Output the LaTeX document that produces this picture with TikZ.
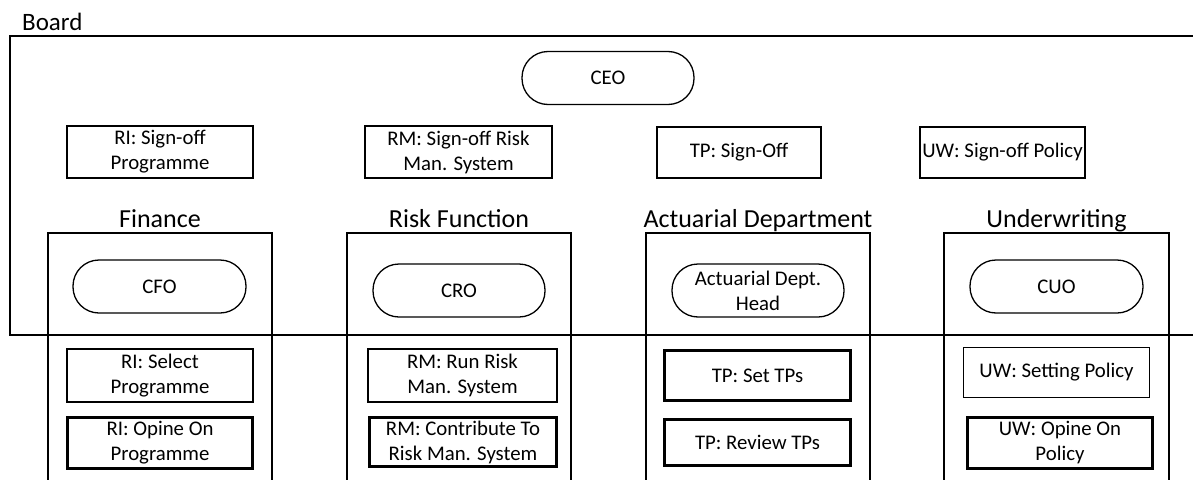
\documentclass[tikz,border=0pt]{standalone}
\usepackage{fontspec}
\setmainfont{Carlito}
\usepackage{tikz}

\begin{document}
\begin{tikzpicture}[x=1pt, y=-1pt,
  frame/.style={draw, line width=1.3pt, rectangle, inner sep=0pt},
  taskbox/.style={draw, line width=1.3pt, rectangle, align=center, inner sep=0pt, minimum width=186pt, minimum height=52pt, font=\fontsize{20.8pt}{25pt}\selectfont},
  keybox/.style={taskbox, line width=3.5pt},
  rolepill/.style={draw, line width=1.3pt, rectangle, rounded corners=26pt, align=center, inner sep=0pt, minimum width=172pt, minimum height=53pt, font=\fontsize{20.8pt}{25pt}\selectfont},
  unitlabel/.style={anchor=base, inner sep=0pt, font=\fontsize{26pt}{26pt}\selectfont}]%
\useasboundingbox (0,0) rectangle (1193,479);%
\clip (0,0) rectangle (1193,479);%
% board
\node[frame, minimum width=1200pt, minimum height=299pt] (board) at (610, 185.5) {};%
\node[anchor=base west, inner sep=0pt, font=\fontsize{25pt}{25pt}\selectfont] (boardlbl) at (22, 30) {Board};%
\node[rolepill] (ceo) at (608, 78) {CEO};%
\node[taskbox] (risignoff) at (160, 152) {RI: Sign-off\\Programme};%
\node[taskbox, minimum width=187pt] (rmsignoff) at (458.5, 152) {RM: Sign-off Risk\\Man. System};%
\node[taskbox, minimum width=164pt, minimum height=51pt] (tpsignoff) at (739, 152.5) {TP: Sign-Off};%
\node[taskbox, minimum width=165pt, minimum height=51pt] (uwsignoff) at (1002.5, 152.5) {UW: Sign-off Policy};%
% departments
\node[frame, minimum width=224pt, minimum height=287pt] (finance) at (160, 376.5) {};%
\node[frame, minimum width=224pt, minimum height=287pt] (risk) at (459, 376.5) {};%
\node[frame, minimum width=224pt, minimum height=287pt] (actuarial) at (758, 376.5) {};%
\node[frame, minimum width=225pt, minimum height=287pt] (underwriting) at (1056.5, 376.5) {};%
\node[unitlabel] (financelbl) at (160, 227) {Finance};%
\node[unitlabel] (risklbl) at (459, 227) {Risk Function};%
\node[unitlabel] (actuariallbl) at (758, 227) {Actuarial Department};%
\node[unitlabel] (underwritinglbl) at (1056.5, 227) {Underwriting};%
% heads
\node[rolepill, minimum width=173pt] (cfo) at (159.5, 286.5) {CFO};%
\node[rolepill] (cro) at (459, 290.5) {CRO};%
\node[rolepill] (acthead) at (758, 290.5) {Actuarial Dept.\\Head};%
\node[rolepill, minimum width=173pt] (cuo) at (1056.5, 286.5) {CUO};%
% tasks
\node[taskbox, minimum height=53pt] (riselect) at (160, 375.5) {RI: Select\\Programme};%
\node[keybox, minimum width=185pt, minimum height=51pt] (riopine) at (160, 443) {RI: Opine On\\Programme};%
\node[taskbox, minimum width=189pt, minimum height=53pt] (rmrun) at (462.5, 375.5) {RM: Run Risk\\Man. System};%
\node[keybox, minimum width=187pt, minimum height=49pt] (rmcontrib) at (463, 442) {RM: Contribute To\\Risk Man. System};%
\node[keybox, minimum height=50pt] (tpset) at (757.5, 375.5) {TP: Set TPs};%
\node[keybox, minimum height=46pt] (tpreview) at (757.5, 442.5) {TP: Review TPs};%
\node[taskbox, minimum height=50pt] (uwsetting) at (1056.5, 372.5) {UW: Setting Policy};%
\node[keybox, minimum width=185pt, minimum height=51pt] (uwopine) at (1060, 443) {UW: Opine On\\Policy};%
\end{tikzpicture}
\end{document}
